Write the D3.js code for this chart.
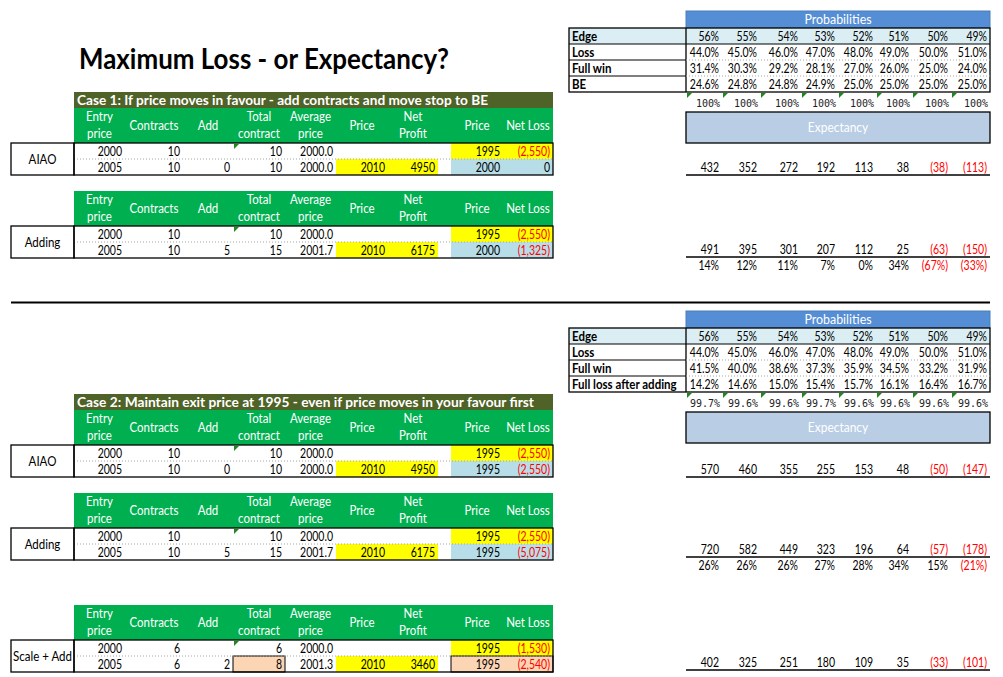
<!DOCTYPE html>
<html>
<head>
<meta charset="utf-8">
<script src="https://cdn.jsdelivr.net/npm/d3@7/dist/d3.min.js"></script>
<style>
  html, body { margin: 0; padding: 0; background: #fff; }
  svg text { font-family: Lato, "Open Sans", sans-serif; }
</style>
</head>
<body>
<div class="sheet"></div>
<script>
// ---- values ----
const edgeProb   = [56, 55, 54, 53, 52, 51, 50, 49];
const lossProb   = [44.0, 45.0, 46.0, 47.0, 48.0, 49.0, 50.0, 51.0];
const fullWin1   = [31.4, 30.3, 29.2, 28.1, 27.0, 26.0, 25.0, 24.0];
const beProb     = [24.6, 24.8, 24.8, 24.9, 25.0, 25.0, 25.0, 25.0];
const total1     = [100, 100, 100, 100, 100, 100, 100, 100];
const fullWin2   = [41.5, 40.0, 38.6, 37.3, 35.9, 34.5, 33.2, 31.9];
const fullLoss2  = [14.2, 14.6, 15.0, 15.4, 15.7, 16.1, 16.4, 16.7];
const total2     = [99.7, 99.6, 99.6, 99.7, 99.6, 99.6, 99.6, 99.6];

const expAiao1   = [432, 352, 272, 192, 113, 38, -38, -113];
const expAdding1 = [491, 395, 301, 207, 112, 25, -63, -150];
const expGain1   = [14, 12, 11, 7, 0, 34, -67, -33];
const expAiao2   = [570, 460, 355, 255, 153, 48, -50, -147];
const expAdding2 = [720, 582, 449, 323, 196, 64, -57, -178];
const expGain2   = [26, 26, 26, 27, 28, 34, 15, -21];
const expScale2  = [402, 325, 251, 180, 109, 35, -33, -101];

const probLabels1 = ['Edge', 'Loss', 'Full win', 'BE'];
const probLabels2 = ['Edge', 'Loss', 'Full win', 'Full loss after adding'];

const colHeads = [['Entry', 'price'], ['Contracts'], ['Add'], ['Total', 'contract'], ['Average', 'price'],
                  ['Price'], ['Net', 'Profit'], [], ['Price'], ['Net Loss']];

// entry, contracts, add, total, avg price, price, net profit, exit price, net loss
const aiao1   = [[2000, 10, null, 10, 2000.0, null, null, 1995, -2550], [2005, 10, 0, 10, 2000.0, 2010, 4950, 2000, 0]];
const adding1 = [[2000, 10, null, 10, 2000.0, null, null, 1995, -2550], [2005, 10, 5, 15, 2001.7, 2010, 6175, 2000, -1325]];
const aiao2   = [[2000, 10, null, 10, 2000.0, null, null, 1995, -2550], [2005, 10, 0, 10, 2000.0, 2010, 4950, 1995, -2550]];
const adding2 = [[2000, 10, null, 10, 2000.0, null, null, 1995, -2550], [2005, 10, 5, 15, 2001.7, 2010, 6175, 1995, -5075]];
const scale2  = [[2000, 6, null, 6, 2000.0, null, null, 1995, -1530], [2005, 6, 2, 8, 2001.3, 2010, 3460, 1995, -2540]];

// ---- layout ----
const W = 1003, H = 677;
const RED = '#ff0000', GREEN = '#00b050', OLIVE = '#4f6228', YELLOW = '#ffff00',
      LBLUE = '#b7dee8', PEACH = '#fcd5b4', PBLUE = '#558ed5', EDGEBG = '#daeef3', EXPBG = '#b9cde5';

const colEdges = [74, 125, 183, 233, 285, 336, 388, 438, 451, 503, 553];
const x = d3.scaleOrdinal().domain(d3.range(10)).range(colEdges.slice(0, 10));
const cw = i => colEdges[i + 1] - colEdges[i];
const dataCols = [0, 1, 2, 3, 4, 5, 6, 8, 9];

const pEdges = [686, 722, 760, 801, 838, 876, 912, 951, 990];
const px = d3.scaleOrdinal().domain(d3.range(8)).range(pEdges.slice(0, 8));
const pw = i => pEdges[i + 1] - pEdges[i];

const svg = d3.select('.sheet').append('svg')
  .attr('width', W).attr('height', H);

// Lato is wider than the sheet's font, so squeeze glyphs a bit
function text(g, s, tx, ty, anchor, opt) {
  opt = opt || {};
  const t = g.append('text').text(s)
    .attr('x', tx).attr('y', ty)
    .attr('text-anchor', anchor || 'start')
    .attr('font-size', opt.size || 12.5)
    .attr('font-weight', opt.bold ? 'bold' : null)
    .attr('fill', opt.fill || '#000');
  if (opt.family) t.style('font-family', opt.family);
  if (opt.squeeze !== false) {
    const k = /^[\d(),.%\-]+$/.test(s) ? 0.84 : 0.92;
    const len = t.node().getComputedTextLength();
    if (len > 0) t.attr('textLength', len * k).attr('lengthAdjust', 'spacingAndGlyphs');
  }
  return t;
}
function rect(g, rx, ry, rw, rh, fill, stroke, sw) {
  return g.append('rect').attr('x', rx).attr('y', ry).attr('width', rw).attr('height', rh)
    .attr('fill', fill || 'none').attr('stroke', stroke || 'none').attr('stroke-width', sw || 1);
}
function line(g, x1, y1, x2, y2, stroke, sw, dash) {
  return g.append('line').attr('x1', x1).attr('y1', y1).attr('x2', x2).attr('y2', y2)
    .attr('stroke', stroke || '#000').attr('stroke-width', sw || 1)
    .attr('stroke-dasharray', dash || null);
}
function flag(g, fx, fy) {
  g.append('path').attr('d', `M${fx},${fy}h5l-5,5z`).attr('fill', '#1a8a1a');
}

const fmtAvg = d3.format('.1f');
const fmtComma = d3.format(',');
function loss(v) { return v < 0 ? '(' + fmtComma(-v) + ')' : String(v); }
function paren(v) { return v < 0 ? '(' + (-v) + ')' : String(v); }
function pct(v) { return v < 0 ? '(' + (-v) + '%)' : v + '%'; }

// ---- title ----
text(svg, 'Maximum Loss - or Expectancy?', 79, 69, 'start', { size: 28, bold: true, squeeze: false })
  .attr('textLength', 370).attr('lengthAdjust', 'spacingAndGlyphs');

// ---- left trade tables ----
function caseBar(y0, s, len) {
  rect(svg, 74, y0, 479, 16, OLIVE);
  text(svg, s, 77, y0 + 13, 'start', { size: 13.5, bold: true, fill: '#fff', squeeze: false })
    .attr('textLength', len).attr('lengthAdjust', 'spacingAndGlyphs');
}

function tradeTable(y0, label, rows, scaleAdd) {
  const g = svg.append('g');
  // header
  rect(g, 74, y0, 479, 35, GREEN);
  colHeads.forEach((h, i) => {
    const cx = x(i) + cw(i) / 2;
    if (h.length === 2) {
      text(g, h[0], cx, y0 + 13, 'middle', { fill: '#fff' });
      text(g, h[1], cx, y0 + 30, 'middle', { fill: '#fff' });
    } else if (h.length === 1) {
      text(g, h[0], cx, y0 + 22, 'middle', { fill: '#fff' });
    }
  });
  const r0 = y0 + 35, rh = 16;
  // fills
  rect(g, x(8), r0, colEdges[10] - x(8), rh, YELLOW);
  rect(g, x(5), r0 + rh, colEdges[7] - x(5), rh, YELLOW);
  rect(g, x(8), r0 + rh, colEdges[10] - x(8), rh, scaleAdd ? PEACH : LBLUE);
  if (scaleAdd) {
    rect(g, x(3), r0 + rh, cw(3), rh, PEACH, '#000', 1);
    rect(g, x(8), r0 + rh, colEdges[10] - x(8), rh, 'none', '#000', 1);
  }
  // values
  rows.forEach((r, ri) => {
    const ty = r0 + ri * rh + 12.5;
    r.forEach((v, vi) => {
      if (v === null) return;
      const c = dataCols[vi];
      let s = String(v), fill = '#000';
      if (vi === 4) s = fmtAvg(v);
      if (vi === 8) { s = loss(v); if (v < 0) fill = RED; }
      text(g, s, x(c) + cw(c) - 3, ty, 'end', { fill: fill });
    });
  });
  flag(g, x(3) + 1, r0 + 1);
  // borders
  line(g, 74, r0 + rh, 553, r0 + rh, '#a6a6a6', 1, '1,2');
  rect(g, 74, r0, 479, rh * 2, 'none', '#000', 1.3);
  rect(g, 11, r0, 63, rh * 2, 'none', '#000', 1.3);
  text(g, label, 42.5, r0 + rh + 4.5, 'middle');
}

caseBar(92, 'Case 1: If price moves in favour - add contracts and move stop to BE', 411);
tradeTable(108, 'AIAO', aiao1, false);
tradeTable(191, 'Adding', adding1, false);

line(svg, 11, 302.5, 990, 302.5, '#000', 2);

caseBar(394, 'Case 2: Maintain exit price at 1995 - even if price moves in your favour first', 457);
tradeTable(410, 'AIAO', aiao2, false);
tradeTable(493, 'Adding', adding2, false);
tradeTable(605, 'Scale + Add', scale2, true);

// ---- right probability blocks ----
function probBlock(off, labels, rows, totals) {
  const g = svg.append('g');
  rect(g, 686, 11 + off, 304, 17, PBLUE, '#4a7ebb', 1);
  text(g, 'Probabilities', 838, 24 + off, 'middle', { size: 13.5, fill: '#fff' });
  rect(g, 569, 28 + off, 421, 16, EDGEBG);
  labels.forEach((l, i) => {
    text(g, l, 572, 28 + off + i * 16 + 12.5, 'start', { bold: true });
  });
  rows.forEach((r, ri) => {
    r.forEach((v, i) => {
      const s = ri === 0 ? v + '%' : fmtAvg(v) + '%';
      text(g, s, px(i) + pw(i) - 3, 28 + off + ri * 16 + 12.5, 'end');
    });
  });
  // grid lines
  rect(g, 569, 28 + off, 421, 64, 'none', '#000', 1.3);
  line(g, 686, 28 + off, 686, 92 + off, '#000', 1.3);
  line(g, 569, 44 + off, 990, 44 + off, '#000', 1);
  [60, 76].forEach(yy => {
    line(g, 569, yy + off, 686, yy + off, '#000', 1);
    line(g, 686, yy + off, 990, yy + off, '#a6a6a6', 1, '1,2');
  });
  // totals
  totals.forEach((v, i) => {
    flag(g, px(i) + 1, 93 + off);
    text(g, v + '%', px(i) + pw(i) - 2, 107 + off, 'end',
      { size: 10, fill: '#222', family: '"DejaVu Sans Mono", "Liberation Mono", monospace', squeeze: false });
  });
  rect(g, 686, 112 + off, 304, 31, EXPBG, '#000', 1.3);
  text(g, 'Expectancy', 838, 132 + off, 'middle', { size: 13, fill: '#fff' });
}

function expRow(vals, yTop, gain) {
  const g = svg.append('g');
  vals.forEach((v, i) => {
    text(g, gain ? pct(v) : paren(v), px(i) + pw(i) - 3, yTop + 12.5, 'end', { fill: v < 0 ? RED : '#000' });
  });
  if (!gain) line(g, 686, yTop + 16, 990, yTop + 16, '#000', 1.3);
}

probBlock(0, probLabels1, [edgeProb, lossProb, fullWin1, beProb], total1);
expRow(expAiao1, 159);
expRow(expAdding1, 241);
expRow(expGain1, 257, true);

probBlock(300, probLabels2, [edgeProb, lossProb, fullWin2, fullLoss2], total2);
expRow(expAiao2, 461);
expRow(expAdding2, 541);
expRow(expGain2, 557, true);
expRow(expScale2, 654);
</script>
</body>
</html>
